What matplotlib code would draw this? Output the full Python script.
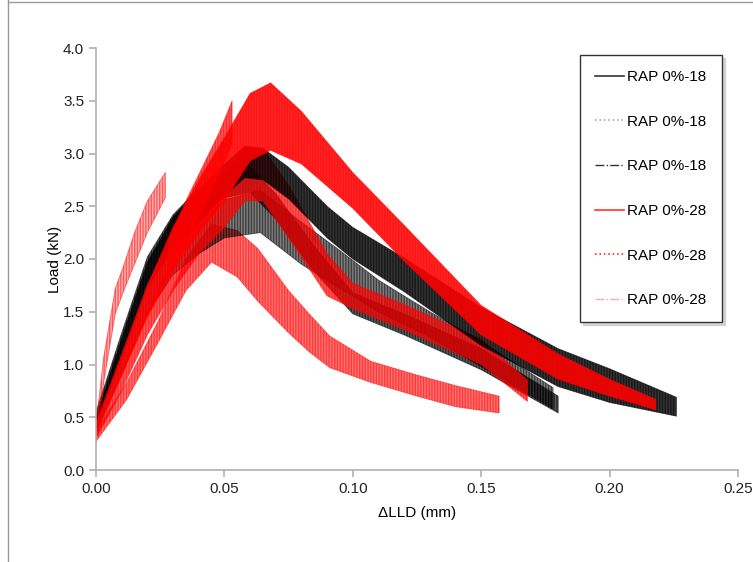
import numpy as np
import matplotlib
matplotlib.use("Agg")
import matplotlib.pyplot as plt
from matplotlib.lines import Line2D
from matplotlib.colors import to_rgba

plt.rcParams["font.family"] = ["Liberation Sans", "DejaVu Sans"]
plt.rcParams["hatch.linewidth"] = 1.0

# curve centre lines (kN) and half band widths
b1_x = [0.0, 0.01, 0.02, 0.03, 0.04, 0.05, 0.058, 0.065, 0.075, 0.09, 0.10, 0.12, 0.15, 0.18, 0.20, 0.226]
b1_y = [0.45, 1.15, 1.85, 2.25, 2.50, 2.75, 2.92, 2.90, 2.72, 2.35, 2.15, 1.85, 1.36, 0.97, 0.80, 0.60]
b1_w = [0.05, 0.10, 0.12, 0.15, 0.15, 0.15, 0.15, 0.15, 0.15, 0.15, 0.15, 0.16, 0.18, 0.18, 0.16, 0.09]

b2_x = [0.0, 0.01, 0.02, 0.03, 0.04, 0.05, 0.064, 0.08, 0.095, 0.11, 0.13, 0.15, 0.178]
b2_y = [0.40, 1.00, 1.60, 2.00, 2.20, 2.38, 2.45, 2.15, 1.90, 1.65, 1.38, 1.10, 0.68]
b2_w = [0.05, 0.10, 0.12, 0.15, 0.15, 0.18, 0.20, 0.20, 0.18, 0.15, 0.12, 0.12, 0.10]

b3_x = [0.0, 0.01, 0.02, 0.03, 0.04, 0.05, 0.06, 0.07, 0.085, 0.10, 0.12, 0.15, 0.18]
b3_y = [0.50, 1.20, 1.90, 2.30, 2.55, 2.70, 2.75, 2.50, 2.00, 1.58, 1.38, 1.05, 0.62]
b3_w = [0.05, 0.10, 0.12, 0.12, 0.12, 0.12, 0.12, 0.12, 0.12, 0.10, 0.10, 0.10, 0.08]

r1_x = [0.0, 0.01, 0.02, 0.03, 0.04, 0.05, 0.06, 0.068, 0.08, 0.10, 0.12, 0.15, 0.18, 0.20, 0.218]
r1_y = [0.40, 1.00, 1.60, 2.10, 2.50, 2.85, 3.25, 3.35, 3.15, 2.65, 2.15, 1.42, 0.98, 0.78, 0.62]
r1_w = [0.05, 0.10, 0.15, 0.20, 0.25, 0.30, 0.32, 0.32, 0.25, 0.17, 0.17, 0.14, 0.12, 0.08, 0.05]

r2_x = [0.0, 0.01, 0.02, 0.03, 0.04, 0.05, 0.058, 0.065, 0.075, 0.09, 0.10, 0.12, 0.15, 0.168]
r2_y = [0.35, 0.85, 1.40, 1.85, 2.25, 2.55, 2.80, 2.80, 2.45, 1.85, 1.65, 1.45, 1.12, 0.75]
r2_w = [0.05, 0.10, 0.12, 0.15, 0.20, 0.25, 0.25, 0.25, 0.25, 0.20, 0.12, 0.12, 0.12, 0.10]

r3_x = [0.0, 0.003, 0.0075, 0.0105, 0.015, 0.02, 0.027]
r3_y = [0.35, 0.95, 1.60, 1.80, 2.10, 2.40, 2.70]
r3_w = [0.08, 0.12, 0.12, 0.12, 0.15, 0.15, 0.12]

# lowest red path and the short red spike to 3.5 kN
rlow_x = [0.0, 0.012, 0.024, 0.035, 0.045, 0.055, 0.063, 0.075, 0.083, 0.091, 0.107, 0.125, 0.14, 0.157]
rlow_y = [0.32, 0.75, 1.30, 1.85, 2.15, 2.05, 1.85, 1.50, 1.30, 1.12, 0.93, 0.80, 0.70, 0.62]
rlow_w = [0.05, 0.08, 0.10, 0.15, 0.18, 0.22, 0.25, 0.20, 0.18, 0.15, 0.10, 0.10, 0.10, 0.08]

rspike_x = [0.028, 0.035, 0.042, 0.048, 0.053]
rspike_y = [2.00, 2.35, 2.70, 3.00, 3.30]
rspike_w = [0.15, 0.20, 0.20, 0.20, 0.20]

labels = ["RAP 0%-18", "RAP 0%-18", "RAP 0%-18", "RAP 0%-28", "RAP 0%-28", "RAP 0%-28"]


def band(ax, x, y, w, color, alpha=1.0, hatch="||||||"):
    y = np.array(y)
    w = np.array(w)
    ax.fill_between(x, y - w, y + w, facecolor=to_rgba(color, alpha),
                    edgecolor=to_rgba(color, 0.5), hatch=hatch, lw=0.6)


fig = plt.figure(figsize=(7.53, 5.62), dpi=100)
ax = fig.add_axes([96 / 753, 1 - 470 / 562, (738 - 96) / 753, (470 - 48) / 562])

band(ax, rlow_x, rlow_y, rlow_w, "#ff0000", 0.55)
band(ax, b2_x, b2_y, b2_w, "#000000", 0.5)
band(ax, b3_x, b3_y, b3_w, "#000000", 0.65)
band(ax, r2_x, r2_y, r2_w, "#ff0000", 0.65)
band(ax, b1_x, b1_y, b1_w, "#000000", 0.8)
band(ax, r1_x, r1_y, r1_w, "#ff0000", 0.85)
band(ax, rspike_x, rspike_y, rspike_w, "#ff0000", 0.65)
band(ax, r3_x, r3_y, r3_w, "#ff0000", 0.3)

ax.set_xlim(0, 0.25)
ax.set_ylim(0, 4.0)
ax.set_xticks(np.arange(0, 0.251, 0.05))
ax.set_yticks(np.arange(0, 4.01, 0.5))
ax.xaxis.set_major_formatter(matplotlib.ticker.FormatStrFormatter("%.2f"))
ax.yaxis.set_major_formatter(matplotlib.ticker.FormatStrFormatter("%.1f"))
for s in ["top", "right"]:
    ax.spines[s].set_visible(False)
for s in ["left", "bottom"]:
    ax.spines[s].set_color("#b0b0b0")
    ax.spines[s].set_linewidth(1.2)
ax.tick_params(direction="out", length=5, width=1.2, color="#b0b0b0", labelsize=11, labelcolor="#222222")
ax.set_xlabel("ΔLLD (mm)", fontsize=11, labelpad=7)
ax.set_ylabel("Load (kN)", fontsize=11, labelpad=1)

handles = [
    Line2D([], [], color="#333333", ls="-", lw=1.2),
    Line2D([], [], color="#aaaaaa", ls=":", lw=1.2),
    Line2D([], [], color="#333333", ls="-.", lw=1.0),
    Line2D([], [], color="#ff3333", ls="-", lw=1.2),
    Line2D([], [], color="#ff3333", ls=":", lw=1.2),
    Line2D([], [], color="#ffaaaa", ls="-.", lw=1.0),
]
leg = ax.legend(handles, labels, loc="upper left", bbox_to_anchor=(580 / 753, 1 - 55 / 562),
                bbox_transform=fig.transFigure, fontsize=11, labelspacing=2.0,
                handlelength=1.9, handletextpad=0.2, borderpad=1.0, fancybox=False,
                shadow={"color": "0.75", "alpha": 0.6}, framealpha=1, borderaxespad=0)
leg.get_frame().set_edgecolor("#333333")
leg.get_frame().set_linewidth(1.0)

# outer chart frame
fig.add_artist(Line2D([7.5 / 753, 7.5 / 753], [0, 1], color="#999999", lw=1.0))
fig.add_artist(Line2D([7.5 / 753, 1], [1 - 1.5 / 562, 1 - 1.5 / 562], color="#999999", lw=1.0))

fig.savefig("out.png", dpi=100)
